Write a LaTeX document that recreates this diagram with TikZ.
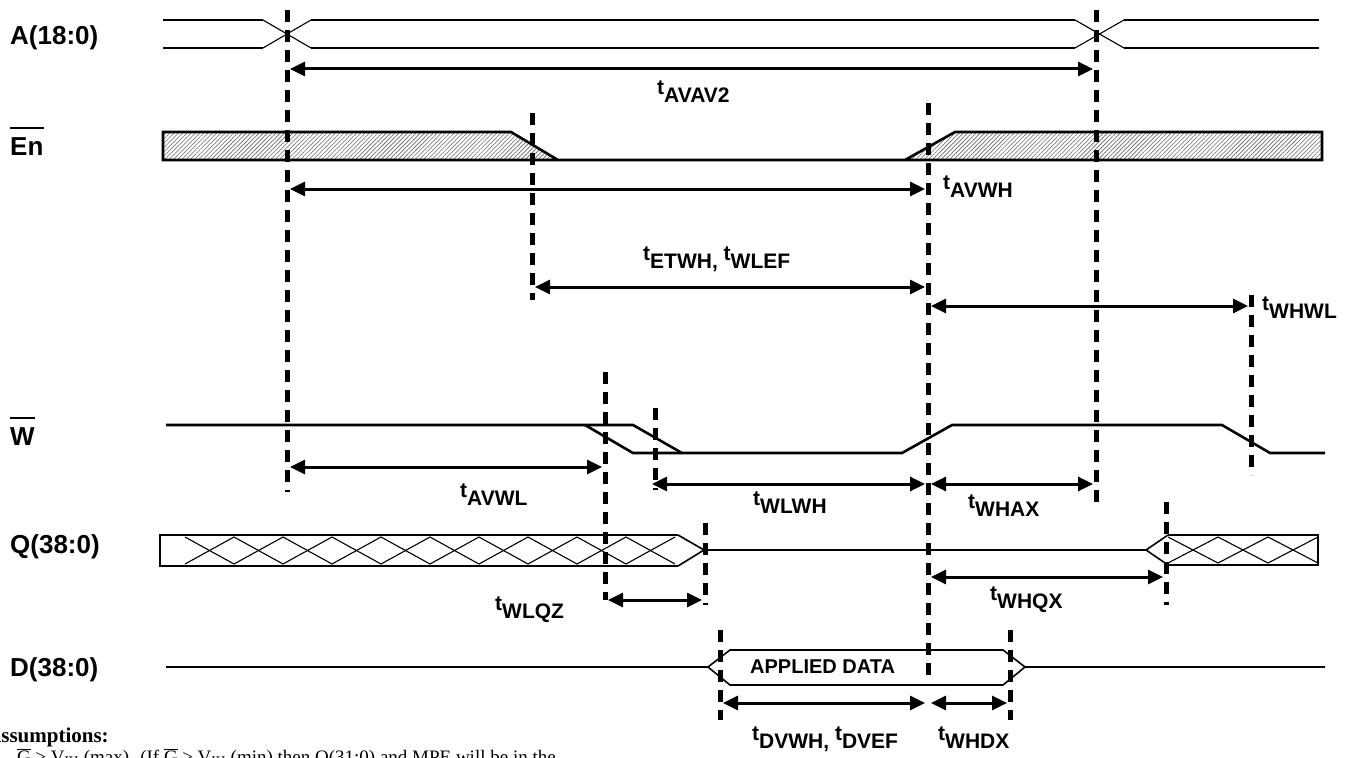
\documentclass[tikz,border=0pt]{standalone}
\usepackage{fontspec}
\setmainfont{Liberation Sans}
\newfontfamily\seriffam{Liberation Serif}
\usetikzlibrary{arrows.meta,patterns.meta}
\newcommand\tsub[1]{t\raisebox{-8pt}{#1}}
\begin{document}
\begin{tikzpicture}[x=1pt,y=-1pt,
  sig/.style={line width=2.6pt, line join=miter},
  asig/.style={line width=2.2pt},
  xing/.style={line width=1.1pt},
  guide/.style={line width=5pt, dash pattern=on 12pt off 8pt},
  dim/.style={line width=3pt, {Triangle[length=15pt,width=14pt]}-{Triangle[length=15pt,width=14pt]}},
  siglabel/.style={font=\fontsize{26}{26}\selectfont\bfseries, anchor=base west, inner sep=0pt},
  tlabel/.style={font=\fontsize{21}{21}\selectfont\bfseries, anchor=base west, inner sep=0pt},
  hatch/.style={pattern={Lines[angle=45,distance=3pt,line width=0.6pt]}, pattern color=black!60},
  bar/.style={line width=2.5pt},
]
\useasboundingbox (0,0) rectangle (1356,757);

% ---------- signal labels ----------
\node[siglabel] (lA) at (10,45) {A(18:0)};
\node[siglabel] (lEn) at (10,155) {En};
\draw[bar] ([yshift=9pt]lEn.north west) -- ([yshift=9pt]lEn.north east);
\node[siglabel] (lW) at (10,445) {W};
\draw[bar] ([yshift=9pt]lW.north west) -- ([yshift=9pt]lW.north east);
\node[siglabel] (lQ) at (10,553) {Q(38:0)};
\node[siglabel] (lD) at (10,676) {D(38:0)};

% ---------- A(18:0) ----------
\draw[asig] (163,20) -- (263,20) (163,48) -- (263,48);
\draw[xing] (263,20) -- (311,48) (263,48) -- (311,20);
\draw[asig] (311,20) -- (1075,20) (311,48) -- (1075,48);
\draw[xing] (1075,20) -- (1124,48) (1075,48) -- (1124,20);
\draw[asig] (1124,20) -- (1319,20) (1124,48) -- (1319,48);

% ---------- En ----------
\fill[hatch] (163,160) -- (163,132) -- (511,132) -- (558,160) -- cycle;
\fill[hatch] (905,160) -- (955,132) -- (1322,132) -- (1322,160) -- cycle;
\draw[sig] (558,160) -- (163,160) -- (163,132) -- (511,132) -- (558,160) -- (905,160)
  -- (955,132) -- (1322,132) -- (1322,160) -- (905,160);

% ---------- W ----------
\draw[sig] (166,425) -- (633,425) -- (682,453) -- (902,453) -- (952,425) -- (1222,425)
  -- (1270,453) -- (1325,453);
\draw[sig] (585,425) -- (633,453) -- (682,453);

% ---------- Q(38:0) ----------
\draw[sig] (678,535) -- (160,535) -- (160,566) -- (678,566);
\draw[line width=1.6pt] (678,535) -- (704,550) -- (678,566);
\draw[xing] (185,537) -- (234,564) -- (283,537) -- (332,564) -- (381,537) -- (430,564)
  -- (479,537) -- (528,564) -- (577,537) -- (626,564) -- (675,537);
\draw[xing] (185,564) -- (234,537) -- (283,564) -- (332,537) -- (381,564) -- (430,537)
  -- (479,564) -- (528,537) -- (577,564) -- (626,537) -- (675,564);
\draw[line width=2pt] (704,550) -- (1146,550);
\draw[line width=1.6pt] (1168,535) -- (1146,550) -- (1168,565);
\draw[sig] (1168,535) -- (1318,535) -- (1318,565) -- (1168,565);
\draw[xing] (1168,537) -- (1218,563) -- (1268,537) -- (1318,563);
\draw[xing] (1168,563) -- (1218,537) -- (1268,563) -- (1318,537);

% ---------- D(38:0) ----------
\draw[sig] (166,667) -- (708,667);
\draw[line width=1.6pt] (708,667) -- (730,650) -- (1003,650) -- (1025,667) -- (1003,685)
  -- (730,685) -- cycle;
\draw[sig] (1025,667) -- (1325,667);
\node[font=\fontsize{20}{20}\selectfont\bfseries, anchor=base west, inner sep=0pt] (data) at (750,673) {APPLIED DATA};

% ---------- guide lines ----------
\coordinate (g1t) at (287,10);   \coordinate (g1b) at (287,492);
\coordinate (g2t) at (532,113);  \coordinate (g2b) at (532,300);
\coordinate (g3t) at (928,103);  \coordinate (g3b) at (928,680);
\coordinate (g4t) at (1096,10);  \coordinate (g4b) at (1096,505);
\coordinate (g5t) at (1251,295); \coordinate (g5b) at (1251,475);
\coordinate (g6t) at (605,372);  \coordinate (g6b) at (605,600);
\coordinate (g7t) at (655,408);  \coordinate (g7b) at (655,490);
\coordinate (g8t) at (705,523);  \coordinate (g8b) at (705,605);
\coordinate (g9t) at (1166,502); \coordinate (g9b) at (1166,605);
\coordinate (g10t) at (720,630); \coordinate (g10b) at (720,720);
\coordinate (g11t) at (1010,630);\coordinate (g11b) at (1010,720);
\foreach \i in {1,...,11} { \draw[guide] (g\i t) -- (g\i b); }

% ---------- dimension arrows ----------
\coordinate (a1l) at (290,69);  \coordinate (a1r) at (1093,69);
\coordinate (a2l) at (290,189); \coordinate (a2r) at (925,189);
\coordinate (a3l) at (535,287); \coordinate (a3r) at (925,287);
\coordinate (a4l) at (931,306); \coordinate (a4r) at (1248,306);
\coordinate (a5l) at (290,467); \coordinate (a5r) at (602,467);
\coordinate (a6l) at (652,484); \coordinate (a6r) at (925,484);
\coordinate (a7l) at (931,484); \coordinate (a7r) at (1093,484);
\coordinate (a8l) at (608,600); \coordinate (a8r) at (702,600);
\coordinate (a9l) at (931,577); \coordinate (a9r) at (1163,577);
\coordinate (a10l) at (723,703); \coordinate (a10r) at (925,703);
\coordinate (a11l) at (931,703); \coordinate (a11r) at (1007,703);
\foreach \i in {1,...,11} { \draw[dim] (a\i l) -- (a\i r); }

% ---------- timing labels ----------
\node[tlabel] (tAVAV) at (657,95) {\tsub{AVAV2}};
\node[tlabel] (tAVWH) at (943,189) {\tsub{AVWH}};
\node[tlabel] (tETWH) at (643,260) {\tsub{ETWH,} \tsub{WLEF}};
\node[tlabel] (tWHWL) at (1262,310) {\tsub{WHWL}};
\node[tlabel] (tAVWL) at (460,497) {\tsub{AVWL}};
\node[tlabel] (tWLWH) at (753,505) {\tsub{WLWH}};
\node[tlabel] (tWHAX) at (968,508) {\tsub{WHAX}};
\node[tlabel] (tWLQZ) at (495,610) {\tsub{WLQZ}};
\node[tlabel] (tWHQX) at (990,600) {\tsub{WHQX}};
\node[tlabel] (tDVWH) at (752,740) {\tsub{DVWH,} \tsub{DVEF}};
\node[tlabel] (tWHDX) at (938,740) {\tsub{WHDX}};

% ---------- assumptions ----------
\node[font=\seriffam\bfseries\fontsize{21}{21}\selectfont, anchor=base west, inner sep=0pt] (asm) at (-14,742) {Assumptions:};
\node[font=\seriffam\fontsize{19}{19}\selectfont, anchor=base west, inner sep=0pt] (asm2) at (17,763)
  {$\overline{\hbox{G}}$ ≥ V\textsubscript{IH} (max). (If $\overline{\hbox{G}}$ ≥ V\textsubscript{IH} (min) then Q(31:0) and MPE will be in the};
\end{tikzpicture}
\end{document}
